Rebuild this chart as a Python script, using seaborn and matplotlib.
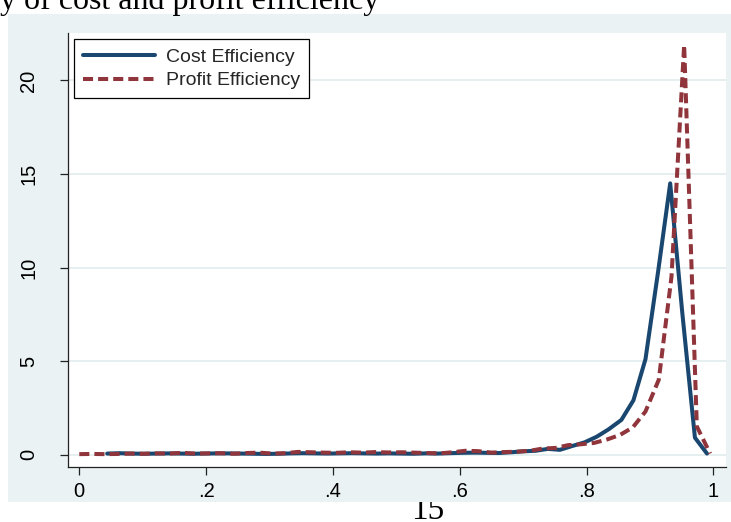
import matplotlib
matplotlib.use("Agg")
import matplotlib.pyplot as plt
import seaborn as sns
import pandas as pd
from matplotlib.patches import Rectangle

# ---------------- data ----------------
series_names = ["Cost Efficiency", "Profit Efficiency"]

cost_x = [0.044, 0.063, 0.083, 0.102, 0.121, 0.141, 0.160, 0.179, 0.198, 0.218,
          0.237, 0.256, 0.276, 0.295, 0.314, 0.334, 0.353, 0.372, 0.391, 0.411,
          0.430, 0.449, 0.469, 0.488, 0.507, 0.527, 0.546, 0.565, 0.584, 0.604,
          0.623, 0.642, 0.662, 0.681, 0.700, 0.720, 0.739, 0.758, 0.777, 0.797,
          0.816, 0.835, 0.855, 0.874, 0.893, 0.913, 0.932, 0.951, 0.971, 0.990]
cost_y = [0.05, 0.07, 0.05, 0.04, 0.05, 0.06, 0.05, 0.04, 0.05, 0.06,
          0.06, 0.05, 0.04, 0.03, 0.04, 0.06, 0.07, 0.06, 0.05, 0.06,
          0.07, 0.06, 0.05, 0.06, 0.05, 0.04, 0.06, 0.05, 0.07, 0.09,
          0.10, 0.09, 0.08, 0.12, 0.17, 0.20, 0.30, 0.25, 0.45, 0.65,
          0.95, 1.35, 1.85, 2.90, 5.10, 9.80, 14.50, 7.60, 0.90, 0.05]

profit_x = [0.000, 0.020, 0.041, 0.061, 0.081, 0.102, 0.122, 0.142, 0.162, 0.183,
            0.203, 0.223, 0.244, 0.264, 0.284, 0.305, 0.325, 0.345, 0.365, 0.386,
            0.406, 0.426, 0.447, 0.467, 0.487, 0.508, 0.528, 0.548, 0.568, 0.589,
            0.609, 0.629, 0.650, 0.670, 0.690, 0.711, 0.731, 0.751, 0.771, 0.792,
            0.812, 0.832, 0.853, 0.873, 0.893, 0.914, 0.934, 0.954, 0.974, 0.995]
profit_y = [0.02, 0.03, 0.02, 0.03, 0.05, 0.04, 0.06, 0.05, 0.09, 0.05,
            0.06, 0.07, 0.04, 0.08, 0.10, 0.05, 0.07, 0.14, 0.12, 0.10,
            0.09, 0.12, 0.10, 0.13, 0.11, 0.12, 0.10, 0.08, 0.06, 0.12,
            0.20, 0.18, 0.10, 0.13, 0.15, 0.20, 0.32, 0.35, 0.50, 0.55,
            0.62, 0.80, 1.05, 1.45, 2.30, 4.00, 9.50, 21.90, 1.50, 0.05]

x_ticks = [0, 0.2, 0.4, 0.6, 0.8, 1.0]
x_tick_labels = ["0", ".2", ".4", ".6", ".8", "1"]
y_ticks = [0, 5, 10, 15, 20]
y_tick_labels = ["0", "5", "10", "15", "20"]

title_fragment = "y of cost and profit efficiency"
page_number = "15"

# ---------------- styling ----------------
sns.set_style("white")
plt.rcParams['font.family'] = ['Liberation Sans', 'DejaVu Sans']

W, H = 731, 522
fig = plt.figure(figsize=(W / 100, H / 100), dpi=100)
fig.patch.set_facecolor('white')

# page number (its top is hidden behind the chart background)
fig.text(411 / W, 3 / H, page_number, family=['Liberation Serif', 'DejaVu Serif'],
         fontsize=24, va='baseline', ha='left', color='black', zorder=-2)

# chart background
bg = Rectangle((8 / W, 20 / H), 723 / W, 488 / H, transform=fig.transFigure,
               facecolor='#eaf2f3', edgecolor='none', zorder=-1)
fig.add_artist(bg)

# cropped document title
fig.text(0 / W, (H - 9.5) / H, title_fragment, family=['Liberation Serif', 'DejaVu Serif'],
         fontsize=23, va='baseline', ha='left', color='black')

ax = fig.add_axes([68 / W, 55 / H, 658 / W, 434 / H])
ax.set_facecolor('white')
ax.set_zorder(1)

cost_df = pd.DataFrame({"x": cost_x, "y": cost_y})
profit_df = pd.DataFrame({"x": profit_x, "y": profit_y})

sns.lineplot(data=cost_df, x="x", y="y", ax=ax, color='#1a476f', lw=2.9,
             label=series_names[0], estimator=None, sort=False)
sns.lineplot(data=profit_df, x="x", y="y", ax=ax, color='#90353b', lw=2.9,
             linestyle=(0, (2.5, 1.25)), label=series_names[1], estimator=None, sort=False)

ax.set_xlim(-0.0178, 1.020)
ax.set_ylim(-0.668, 22.54)
ax.set_xticks(x_ticks)
ax.set_xticklabels(x_tick_labels)
ax.set_yticks(y_ticks)
ax.set_yticklabels(y_tick_labels, rotation=90, va='center')
ax.set_xlabel("")
ax.set_ylabel("")

for s in ['top', 'right']:
    ax.spines[s].set_visible(False)
for s in ['left', 'bottom']:
    ax.spines[s].set_visible(True)
    ax.spines[s].set_color('#222222')
    ax.spines[s].set_linewidth(0.9)

ax.tick_params(axis='both', which='major', direction='out', length=5.5, width=0.9,
               color='#222222', labelsize=14.5, labelcolor='black',
               bottom=True, left=True)
ax.tick_params(axis='y', pad=16)
ax.tick_params(axis='x', pad=5)

ax.yaxis.grid(True, color='#e6eff0', lw=1.4)
ax.xaxis.grid(False)
ax.set_axisbelow(True)

leg = ax.legend(loc='upper left', bbox_to_anchor=(6 / 658, (467 - 39.3) / 434),
                borderaxespad=0, frameon=True, fancybox=False, edgecolor='black',
                fontsize=14, handlelength=3.7, handletextpad=0.6,
                labelspacing=0.32, borderpad=0.45, framealpha=1)
leg.get_frame().set_linewidth(0.9)

fig.savefig("out.png", dpi=100, facecolor='white')
